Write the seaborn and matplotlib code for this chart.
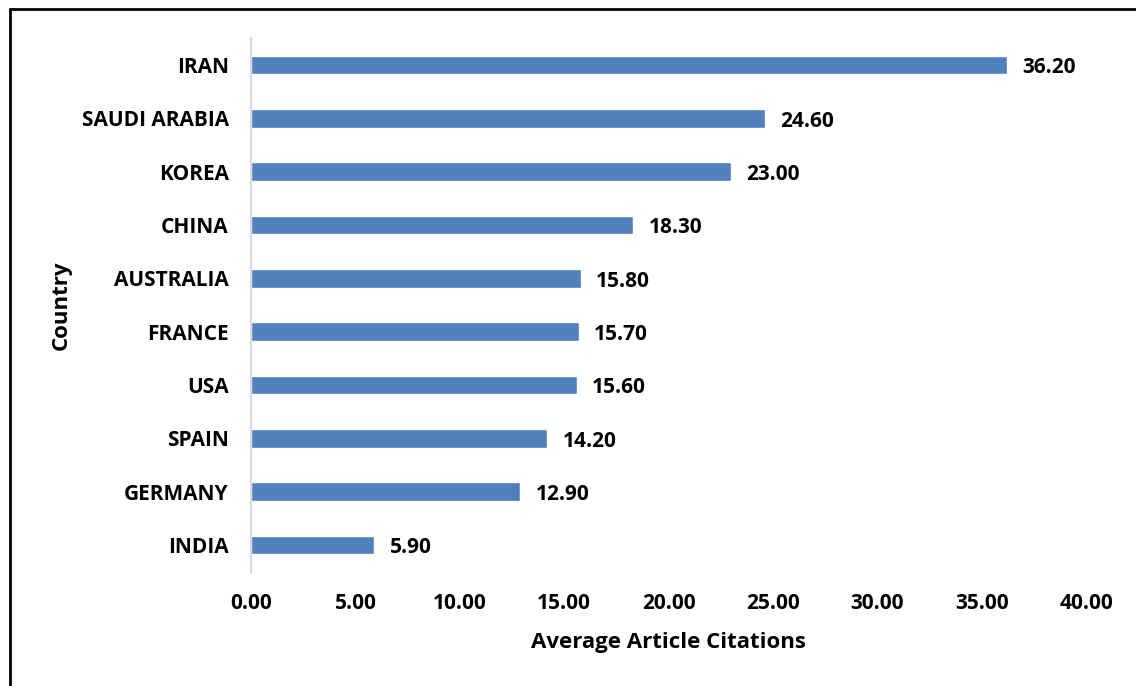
import matplotlib
matplotlib.use("Agg")
import matplotlib.pyplot as plt
from matplotlib.lines import Line2D
import seaborn as sns
import pandas as pd

countries = ["IRAN", "SAUDI ARABIA", "KOREA", "CHINA", "AUSTRALIA",
             "FRANCE", "USA", "SPAIN", "GERMANY", "INDIA"]
citations = [36.20, 24.60, 23.00, 18.30, 15.80, 15.70, 15.60, 14.20, 12.90, 5.90]
x_ticks = [0, 5, 10, 15, 20, 25, 30, 35, 40]

sns.set_theme(style="white")
plt.rcParams["font.family"] = ["Open Sans", "DejaVu Sans"]
plt.rcParams["font.weight"] = "bold"
for key in ["text.color", "xtick.color", "ytick.color", "axes.labelcolor"]:
    plt.rcParams[key] = "black"

FS = 15

df = pd.DataFrame({"Country": countries, "Citations": citations})

fig = plt.figure(figsize=(11.36, 6.86), dpi=100)
ax = fig.add_axes([0.2210, 0.1666, 0.7350, 0.7776])

sns.barplot(data=df, x="Citations", y="Country", order=countries,
            color="#4F81BD", saturation=1, width=0.35, orient="h", ax=ax)

for i, v in enumerate(citations):
    ax.annotate(f"{v:.2f}", xy=(v, i), xytext=(11, -2), textcoords="offset points",
                ha="left", va="center", fontsize=FS, fontweight="bold", color="black")

ax.set_xlim(0, 40)
ax.set_xticks(x_ticks)
ax.set_xticklabels([f"{t:.2f}" for t in x_ticks], fontsize=FS, fontweight="bold")
ax.set_yticks(range(len(countries)))
ax.set_yticklabels(countries, fontsize=FS, fontweight="bold")
ax.tick_params(axis="both", length=0)
ax.tick_params(axis="y", pad=16)
ax.tick_params(axis="x", pad=15.5)

ax.set_xlabel("Average Article Citations", fontsize=FS + 1, fontweight="bold", labelpad=13)
ax.set_ylabel("Country", fontsize=FS + 1, fontweight="bold", labelpad=7)

for side in ["top", "right", "bottom"]:
    ax.spines[side].set_visible(False)
ax.spines["left"].set_color("#D9D9D9")
ax.spines["left"].set_linewidth(1.5)

# frame lines along the left and top edges
fig.add_artist(Line2D([0.0084, 0.0084], [0.0, 0.9865], transform=fig.transFigure,
                      color="black", linewidth=2))
fig.add_artist(Line2D([0.0084, 1.0], [0.9865, 0.9865], transform=fig.transFigure,
                      color="black", linewidth=2))

fig.savefig("out.png", dpi=100)
